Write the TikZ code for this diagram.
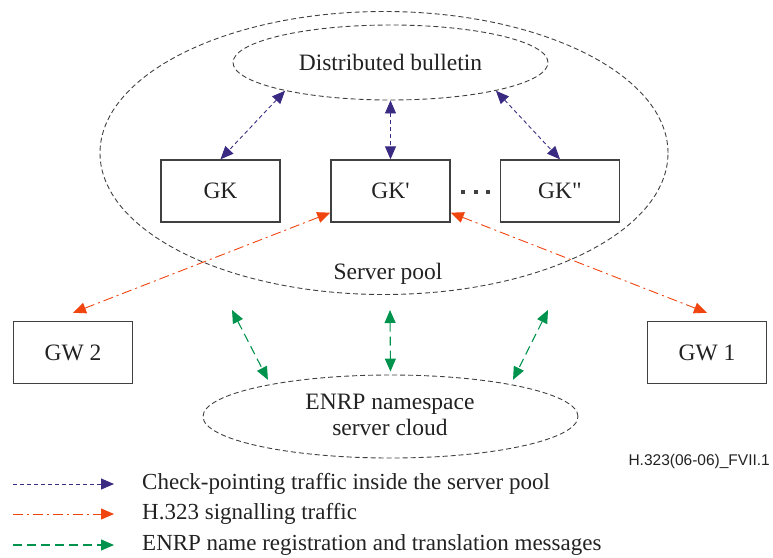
\documentclass[tikz,border=0pt]{standalone}
\usepackage{fontspec}
\setmainfont{Liberation Serif}
\newfontfamily\labelsans{Liberation Sans}
\newfontfamily\plainserif{Liberation Serif}[Ligatures=TeXOff]
\usetikzlibrary{arrows.meta,shapes.geometric}
\definecolor{boxgray}{HTML}{404040}
\definecolor{txt}{HTML}{222222}
\definecolor{cpurple}{HTML}{3A2A82}
\definecolor{corange}{HTML}{F0450F}
\definecolor{cgreen}{HTML}{00934D}
\begin{document}
\begin{tikzpicture}[x=1pt,y=-1pt,
  every node/.style={text=txt},
  box/.style={draw=boxgray, line width=1.4pt, minimum width=119pt, minimum height=62pt, inner sep=0pt, font=\fontsize{23.5}{27}\selectfont},
  cloudshape/.style={ellipse, draw=boxgray, line width=0.9pt, dash pattern=on 5pt off 3pt, inner sep=0pt},
  lbl/.style={font=\fontsize{23.5}{26}\selectfont, inner sep=0pt},
  legtext/.style={font=\fontsize{23}{26}\selectfont, anchor=west, inner sep=0pt},
  tipA/.style={>={Triangle[length=13pt,width=11pt]}},
  chk/.style={tipA, draw=cpurple, line width=0.9pt, dash pattern=on 4pt off 3pt},
  sig/.style={tipA, draw=corange, line width=0.9pt, dash pattern=on 10pt off 4pt on 2pt off 4pt},
  enrp/.style={tipA, draw=cgreen, line width=1.1pt, dash pattern=on 9pt off 5pt},
]
\useasboundingbox (0,0) rectangle (773,557);

% server pool
\node[cloudshape, minimum width=568pt, minimum height=283pt] (pool) at (384,153) {};
\node[lbl] (poollbl) at (388,274) {Server pool};

% bulletin
\node[cloudshape, minimum width=315pt, minimum height=75pt, lbl] (bull) at (390.5,62.5) {Distributed bulletin};

% gatekeepers
\node[box] (gk) at (220.5,191) {GK};
\node[box] (gkp) at (390.5,191) {\plainserif GK'};
\node[box] (gkpp) at (560,191) {\plainserif GK"};
\node[inner sep=0pt, text=boxgray] (dots) at (475.5,192) {\rule{4pt}{4pt}\hspace{8.5pt}\rule{4pt}{4pt}\hspace{8.5pt}\rule{4pt}{4pt}};

% gateways
\node[box] (gw2) at (73,352.5) {GW 2};
\node[box] (gw1) at (707,352.5) {GW 1};

% ENRP cloud
\node[cloudshape, minimum width=375pt, minimum height=83pt] (cloud) at (390.5,416.5) {};
\node[lbl, align=center] (cloudlbl) at (390,415) {ENRP namespace\\server cloud};

% check-pointing
\draw[chk, <->] (bull.195) -- (gk.north);
\draw[chk, <->] (bull.south) -- (gkp.north);
\draw[chk, <->] (bull.-15) -- (gkpp.north);

% signalling
\draw[sig, <->] ([yshift=8pt]gw2.north) -- ([yshift=10pt]gkp.south west);
\draw[sig, <->] ([yshift=10pt]gkp.south east) -- ([yshift=8pt]gw1.north);

% ENRP
\coordinate (e1) at (232,310);
\coordinate (e2) at (390,310);
\coordinate (e3) at (548,310);
\draw[enrp, <->, shorten >=5pt] (e1) -- (cloud.165);
\draw[enrp, <->, shorten >=3pt] (e2) -- (cloud.north);
\draw[enrp, <->, shorten >=5pt] (e3) -- (cloud.15);

% figure id
\node[font=\labelsans\fontsize{15.5}{18}\selectfont, anchor=east, inner sep=0pt] (figid) at (770,461) {H.323(06-06)\_FVII.1};

% legend
\coordinate (l1s) at (13,484); \coordinate (l1e) at (114,484);
\coordinate (l2s) at (13,514); \coordinate (l2e) at (114,514);
\coordinate (l3s) at (13,545); \coordinate (l3e) at (114,545);
\draw[chk, ->] (l1s) -- (l1e);
\draw[sig, ->] (l2s) -- (l2e);
\draw[enrp, ->] (l3s) -- (l3e);
\node[legtext] (t1) at (142,484) {Check-pointing traffic inside the server pool};
\node[legtext] (t2) at (142,514) {H.323 signalling traffic};
\node[legtext] (t3) at (142,545) {ENRP name registration and translation messages};
\end{tikzpicture}
\end{document}
